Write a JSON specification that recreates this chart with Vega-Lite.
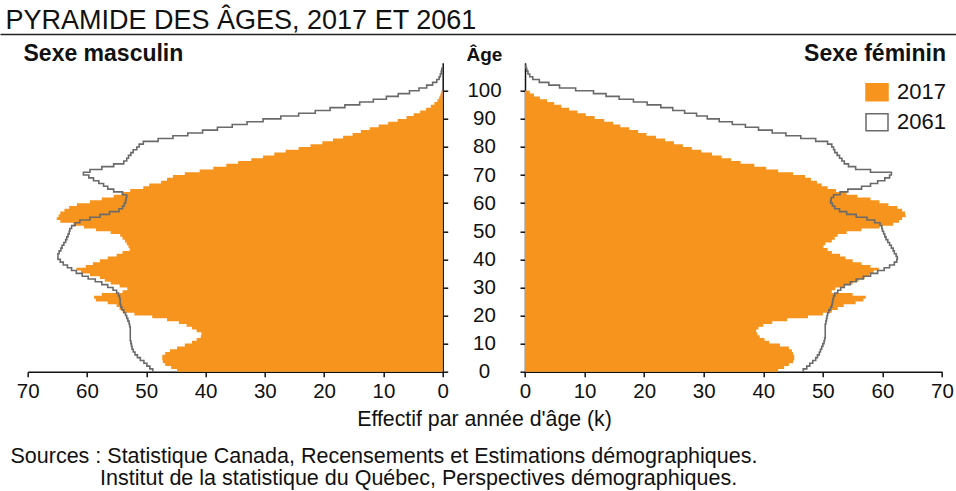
{
  "$schema": "https://vega.github.io/schema/vega-lite/v6.json",
  "width": 914.3,
  "height": 309,
  "autosize": {"type": "none"},
  "padding": {"left": 27.7, "top": 62.7, "right": 14, "bottom": 119.3},
  "background": "white",
  "config": {
    "font": "Liberation Sans",
    "view": {"stroke": null},
    "axis": {"grid": false, "labelFlush": false, "labelColor": "#111", "titleColor": "#111", "domainColor": "#111", "tickColor": "#111"}
  },
  "data": {"values": [
    {"age":0,"m17":43.3,"m61":48.9,"f17":41.2,"f61":46.7},
    {"age":1,"m17":44.8,"m61":49.4,"f17":42.5,"f61":47.3},
    {"age":2,"m17":45.8,"m61":49.9,"f17":43.5,"f61":47.8},
    {"age":3,"m17":46.8,"m61":50.4,"f17":44.3,"f61":48.3},
    {"age":4,"m17":47.2,"m61":51.0,"f17":45.0,"f61":48.8},
    {"age":5,"m17":47.3,"m61":51.5,"f17":45.2,"f61":49.1},
    {"age":6,"m17":47.3,"m61":51.9,"f17":45.2,"f61":49.4},
    {"age":7,"m17":46.8,"m61":52.2,"f17":45.0,"f61":49.6},
    {"age":8,"m17":46.0,"m61":52.4,"f17":44.8,"f61":49.8},
    {"age":9,"m17":44.8,"m61":52.5,"f17":44.3,"f61":50.0},
    {"age":10,"m17":43.5,"m61":52.6,"f17":42.8,"f61":50.2},
    {"age":11,"m17":42.3,"m61":52.7,"f17":41.0,"f61":50.3},
    {"age":12,"m17":41.5,"m61":52.7,"f17":40.2,"f61":50.4},
    {"age":13,"m17":40.8,"m61":52.7,"f17":39.4,"f61":50.4},
    {"age":14,"m17":40.7,"m61":52.7,"f17":39.0,"f61":50.4},
    {"age":15,"m17":41.5,"m61":52.7,"f17":38.8,"f61":50.4},
    {"age":16,"m17":42.3,"m61":52.8,"f17":39.2,"f61":50.4},
    {"age":17,"m17":43.2,"m61":52.9,"f17":40.0,"f61":50.5},
    {"age":18,"m17":44.5,"m61":53.1,"f17":41.5,"f61":50.6},
    {"age":19,"m17":46.5,"m61":53.3,"f17":44.0,"f61":50.7},
    {"age":20,"m17":49.0,"m61":53.5,"f17":47.5,"f61":50.8},
    {"age":21,"m17":52.0,"m61":53.8,"f17":50.0,"f61":51.0},
    {"age":22,"m17":54.0,"m61":54.1,"f17":51.5,"f61":51.3},
    {"age":23,"m17":54.5,"m61":54.3,"f17":52.5,"f61":51.5},
    {"age":24,"m17":55.0,"m61":54.4,"f17":53.5,"f61":51.6},
    {"age":25,"m17":56.5,"m61":54.4,"f17":55.5,"f61":51.7},
    {"age":26,"m17":58.5,"m61":54.5,"f17":56.8,"f61":51.8},
    {"age":27,"m17":58.8,"m61":54.7,"f17":57.2,"f61":52.0},
    {"age":28,"m17":57.5,"m61":55.0,"f17":55.0,"f61":52.5},
    {"age":29,"m17":54.0,"m61":55.6,"f17":51.5,"f61":53.0},
    {"age":30,"m17":53.2,"m61":56.5,"f17":52.1,"f61":53.6},
    {"age":31,"m17":54.5,"m61":57.5,"f17":53.5,"f61":54.6},
    {"age":32,"m17":56.0,"m61":58.6,"f17":55.0,"f61":55.6},
    {"age":33,"m17":57.0,"m61":59.8,"f17":56.0,"f61":56.8},
    {"age":34,"m17":57.8,"m61":60.8,"f17":57.0,"f61":58.0},
    {"age":35,"m17":59.5,"m61":61.8,"f17":57.8,"f61":59.2},
    {"age":36,"m17":61.0,"m61":62.6,"f17":58.5,"f61":60.3},
    {"age":37,"m17":61.8,"m61":63.3,"f17":59.4,"f61":61.2},
    {"age":38,"m17":60.2,"m61":64.0,"f17":58.0,"f61":62.0},
    {"age":39,"m17":59.0,"m61":64.5,"f17":56.5,"f61":62.4},
    {"age":40,"m17":57.8,"m61":64.9,"f17":55.0,"f61":62.5},
    {"age":41,"m17":56.5,"m61":64.9,"f17":53.8,"f61":62.3},
    {"age":42,"m17":55.0,"m61":64.7,"f17":52.9,"f61":62.0},
    {"age":43,"m17":54.0,"m61":64.4,"f17":51.5,"f61":61.8},
    {"age":44,"m17":52.8,"m61":64.2,"f17":50.8,"f61":61.5},
    {"age":45,"m17":53.0,"m61":63.9,"f17":50.1,"f61":61.2},
    {"age":46,"m17":53.3,"m61":63.6,"f17":50.4,"f61":60.9},
    {"age":47,"m17":53.6,"m61":63.4,"f17":51.5,"f61":60.6},
    {"age":48,"m17":54.0,"m61":63.2,"f17":52.0,"f61":60.4},
    {"age":49,"m17":54.4,"m61":63.0,"f17":52.5,"f61":60.2},
    {"age":50,"m17":56.0,"m61":62.9,"f17":54.0,"f61":60.0},
    {"age":51,"m17":58.5,"m61":62.6,"f17":56.5,"f61":59.9},
    {"age":52,"m17":60.5,"m61":62.0,"f17":59.5,"f61":59.6},
    {"age":53,"m17":62.3,"m61":61.2,"f17":61.8,"f61":58.7},
    {"age":54,"m17":64.5,"m61":59.5,"f17":62.8,"f61":57.4},
    {"age":55,"m17":65.1,"m61":57.8,"f17":63.3,"f61":55.6},
    {"age":56,"m17":64.8,"m61":56.2,"f17":63.9,"f61":54.0},
    {"age":57,"m17":64.5,"m61":54.6,"f17":63.8,"f61":52.8},
    {"age":58,"m17":63.8,"m61":54.0,"f17":63.3,"f61":52.0},
    {"age":59,"m17":63.0,"m61":53.7,"f17":62.5,"f61":51.6},
    {"age":60,"m17":61.7,"m61":53.5,"f17":61.0,"f61":51.3},
    {"age":61,"m17":59.5,"m61":53.4,"f17":59.5,"f61":51.4},
    {"age":62,"m17":57.5,"m61":53.3,"f17":58.0,"f61":51.8},
    {"age":63,"m17":55.5,"m61":54.0,"f17":55.8,"f61":52.9},
    {"age":64,"m17":54.2,"m61":55.5,"f17":54.0,"f61":54.2},
    {"age":65,"m17":52.7,"m61":56.5,"f17":52.2,"f61":56.5},
    {"age":66,"m17":50.5,"m61":57.2,"f17":50.8,"f61":58.0},
    {"age":67,"m17":49.5,"m61":58.0,"f17":49.8,"f61":59.2},
    {"age":68,"m17":47.5,"m61":58.9,"f17":49.0,"f61":60.4},
    {"age":69,"m17":46.5,"m61":59.7,"f17":48.0,"f61":61.2},
    {"age":70,"m17":45.5,"m61":60.6,"f17":47.0,"f61":61.5},
    {"age":71,"m17":43.5,"m61":59.5,"f17":45.0,"f61":58.0},
    {"age":72,"m17":41.0,"m61":57.5,"f17":42.5,"f61":55.5},
    {"age":73,"m17":38.7,"m61":55.5,"f17":40.5,"f61":54.3},
    {"age":74,"m17":36.5,"m61":53.8,"f17":38.5,"f61":53.6},
    {"age":75,"m17":34.5,"m61":53.3,"f17":36.2,"f61":53.2},
    {"age":76,"m17":32.3,"m61":53.0,"f17":34.6,"f61":52.8},
    {"age":77,"m17":30.3,"m61":52.6,"f17":33.0,"f61":52.4},
    {"age":78,"m17":28.4,"m61":52.2,"f17":31.4,"f61":52.0},
    {"age":79,"m17":26.5,"m61":51.6,"f17":29.6,"f61":51.8},
    {"age":80,"m17":24.3,"m61":51.2,"f17":28.0,"f61":51.5},
    {"age":81,"m17":22.3,"m61":50.5,"f17":26.5,"f61":50.8},
    {"age":82,"m17":20.3,"m61":48.0,"f17":25.0,"f61":48.8},
    {"age":83,"m17":18.5,"m61":45.5,"f17":23.5,"f61":46.3},
    {"age":84,"m17":16.8,"m61":43.0,"f17":22.0,"f61":43.8},
    {"age":85,"m17":15.2,"m61":40.5,"f17":20.4,"f61":41.5},
    {"age":86,"m17":13.8,"m61":38.0,"f17":19.0,"f61":39.2},
    {"age":87,"m17":12.3,"m61":35.5,"f17":17.5,"f61":37.0},
    {"age":88,"m17":10.8,"m61":33.0,"f17":16.0,"f61":34.8},
    {"age":89,"m17":9.2,"m61":30.3,"f17":14.8,"f61":32.6},
    {"age":90,"m17":7.6,"m61":27.3,"f17":13.3,"f61":30.6},
    {"age":91,"m17":6.1,"m61":24.3,"f17":11.7,"f61":28.8},
    {"age":92,"m17":4.9,"m61":21.5,"f17":10.2,"f61":26.8},
    {"age":93,"m17":3.8,"m61":19.0,"f17":8.8,"f61":24.8},
    {"age":94,"m17":2.8,"m61":16.5,"f17":7.4,"f61":22.8},
    {"age":95,"m17":2.0,"m61":14.0,"f17":6.1,"f61":20.5},
    {"age":96,"m17":1.4,"m61":11.7,"f17":4.9,"f61":18.2},
    {"age":97,"m17":0.9,"m61":9.5,"f17":3.7,"f61":15.8},
    {"age":98,"m17":0.6,"m61":7.5,"f17":2.5,"f61":13.6},
    {"age":99,"m17":0.4,"m61":5.6,"f17":1.5,"f61":11.5},
    {"age":100,"m17":0.25,"m61":4.0,"f17":0.8,"f61":8.5},
    {"age":101,"m17":0,"m61":2.7,"f17":0,"f61":5.8},
    {"age":102,"m61":1.7,"f61":4.0},
    {"age":103,"m61":1.0,"f61":2.4},
    {"age":104,"m61":0.6,"f61":1.3},
    {"age":105,"m61":0.4,"f61":0.8},
    {"age":106,"m61":0.25,"f61":0.5},
    {"age":107,"m61":0.15,"f61":0.3},
    {"age":108,"m61":0,"f61":0.15},
    {"age":109,"f61":0}
  ]},
  "resolve": {"scale": {"x": "independent"}, "axis": {"x": "independent", "y": "independent"}},
  "layer": [
    {
      "data": {"values": [{"k": 0}]},
      "mark": {"type": "rule", "opacity": 0},
      "encoding": {
        "x": {"datum": 0, "type": "quantitative",
          "scale": {"domain": [0, 1], "range": [-27.7, 928.3], "zero": false, "nice": false},
          "axis": {"orient": "top", "offset": 28.7, "ticks": false, "labels": false, "grid": false,
            "domainColor": "#222", "domainWidth": 1.6,
            "title": "PYRAMIDE DES ÂGES, 2017 ET 2061", "titleX": -22.7, "titleY": -6,
            "titleAlign": "left", "titleBaseline": "alphabetic", "titleAngle": 0,
            "titleFontSize": 27, "titleFontWeight": "normal", "titleColor": "#111"}}
      }
    },
    {
      "mark": {"type": "area", "orient": "horizontal", "interpolate": "step-before", "invalid": "filter"},
      "encoding": {
        "y": {"field": "age", "type": "quantitative",
          "scale": {"domain": [0, 110], "nice": false, "zero": true},
          "axis": {"orient": "right", "offset": -499.3, "values": [0,10,20,30,40,50,60,70,80,90,100],
            "labels": false, "tickSize": 5, "tickWidth": 1.5, "domainWidth": 1.5,
            "title": "Sexe masculin", "titleAngle": 0, "titleX": -419.7, "titleY": -2.7,
            "titleAlign": "left", "titleBaseline": "alphabetic", "titleFontSize": 23, "titleFontWeight": "bold"}},
        "x": {"field": "m17", "type": "quantitative", "stack": null,
          "scale": {"domain": [0, 70], "range": [415, 0], "nice": false},
          "axis": {"orient": "bottom", "values": [0,10,20,30,40,50,60,70],
            "tickSize": 5, "tickWidth": 1.5, "domainWidth": 1.5, "labelFontSize": 20.5, "labelPadding": 5,
            "title": "Effectif par année d'âge (k)", "titleX": 456.3, "titleY": 53.3,
            "titleAlign": "center", "titleBaseline": "alphabetic", "titleFontSize": 21.3, "titleFontWeight": "normal"}},
        "fill": {"datum": "2017", "type": "nominal",
          "scale": {"domain": ["2017", "2061"], "range": ["#F7941D", "#ffffff"]},
          "legend": {"orient": "none", "legendX": 772.3, "legendY": -19.5, "padding": 0,
            "title": "Sexe féminin", "titleFontSize": 23, "titleFontWeight": "bold", "titleColor": "#111",
            "titleAnchor": "end", "titlePadding": 14,
            "symbolType": "M-1,-0.77H1V0.77H-1Z", "symbolSize": 484, "symbolOffset": 65, "symbolStrokeWidth": 1.5,
            "symbolOpacity": 1,
            "labelFontSize": 22, "labelOffset": 8, "labelColor": "#111", "rowPadding": 6}}
      }
    },
    {
      "mark": {"type": "line", "interpolate": "step-before", "strokeWidth": 1.6, "invalid": "filter"},
      "encoding": {
        "y": {"field": "age", "type": "quantitative", "scale": {"domain": [0, 110], "nice": false, "zero": true}, "axis": null},
        "x": {"field": "m61", "type": "quantitative", "scale": {"domain": [0, 70], "range": [415, 0], "nice": false}, "axis": null},
        "order": {"field": "age", "type": "quantitative"},
        "stroke": {"datum": "2061", "type": "nominal",
          "scale": {"domain": ["2017", "2061"], "range": ["#F7941D", "#6a6a6a"]}}
      }
    },
    {
      "mark": {"type": "area", "orient": "horizontal", "interpolate": "step-before", "invalid": "filter"},
      "encoding": {
        "y": {"field": "age", "type": "quantitative",
          "scale": {"domain": [0, 110], "nice": false, "zero": true},
          "axis": {"orient": "left", "offset": -497.3, "values": [0,10,20,30,40,50,60,70,80,90,100],
            "tickSize": 5, "tickWidth": 1.5, "domainWidth": 1.5,
            "labelAlign": "center", "labelBaseline": "middle", "labelPadding": 36, "labelFontSize": 20.5,
            "title": "Âge", "titleAngle": 0, "titleX": -41, "titleY": -2.7,
            "titleAlign": "center", "titleBaseline": "alphabetic", "titleFontSize": 19, "titleFontWeight": "bold"}},
        "x": {"field": "f17", "type": "quantitative", "stack": null,
          "scale": {"domain": [0, 70], "range": [497.3, 914.3], "nice": false},
          "axis": {"orient": "bottom", "values": [0,10,20,30,40,50,60,70],
            "tickSize": 5, "tickWidth": 1.5, "domainWidth": 1.5, "labelFontSize": 20.5, "labelPadding": 5,
            "title": ["Sources : Statistique Canada, Recensements et Estimations démographiques.", "\u200b\u00a0\u00a0\u00a0\u00a0\u00a0\u00a0\u00a0\u00a0\u00a0\u00a0\u00a0\u00a0\u00a0\u00a0\u00a0Institut de la statistique du Québec, Perspectives démographiques."],
            "titleX": -17.7, "titleY": 90.8, "titleLineHeight": 22,
            "titleAlign": "left", "titleBaseline": "alphabetic", "titleFontSize": 21.5, "titleFontWeight": "normal"}},
        "fill": {"datum": "2017", "type": "nominal", "legend": null}
      }
    },
    {
      "mark": {"type": "line", "interpolate": "step-before", "strokeWidth": 1.6, "invalid": "filter"},
      "encoding": {
        "y": {"field": "age", "type": "quantitative", "scale": {"domain": [0, 110], "nice": false, "zero": true}, "axis": null},
        "x": {"field": "f61", "type": "quantitative", "scale": {"domain": [0, 70], "range": [497.3, 914.3], "nice": false}, "axis": null},
        "order": {"field": "age", "type": "quantitative"},
        "stroke": {"datum": "2061", "type": "nominal", "legend": null}
      }
    }
  ]
}
